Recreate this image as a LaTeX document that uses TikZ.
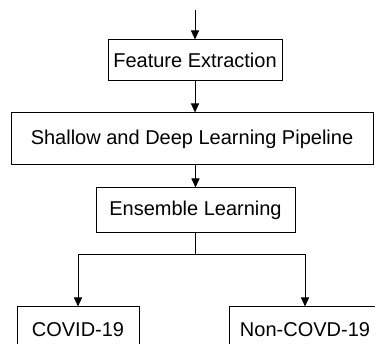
\documentclass[tikz,border=0pt]{standalone}
\usepackage{fontspec}
\setmainfont{Liberation Sans}
\usepackage{tikz}
\usetikzlibrary{arrows.meta,positioning}

\begin{document}
\begin{tikzpicture}[x=1pt,y=1pt,
          stage/.style={draw,rectangle,line width=1pt,inner sep=0pt,font=\fontsize{20}{24}\selectfont},
          flow/.style={line width=1pt,-{Triangle[width=8pt,length=9pt]}},
          link/.style={line width=1pt}]
        \useasboundingbox (0,0) rectangle (375,344);
        \clip (0,0) rectangle (375,344);
        \coordinate (in) at (195,334);
        \node[stage,minimum width=174pt,minimum height=41pt] (feat) at (195,283.5)  {Feature Extraction};
        \node[stage,minimum width=362pt,minimum height=52pt] (pipe) at (192,205)    {Shallow and Deep Learning Pipeline};
        \node[stage,minimum width=199pt,minimum height=45pt] (ens)  at (195.5,133.5) {Ensemble Learning};
        \node[stage,minimum width=122pt,minimum height=45pt] (pos)  at (78,14.5)    {COVID-19};
        \node[stage,minimum width=152pt,minimum height=45pt] (neg)  at (305,14.5)   {Non-COVD-19};
        \coordinate (split) at (195,89);
        \draw[flow] (in) -- (feat.north);
        \draw[flow] (feat.south) -- (feat.south |- pipe.north);
        \draw[flow] (ens.north |- pipe.south) -- (ens.north);
        \draw[link] (ens.south -| split) -- (split);
        \draw[flow] (split) -| (pos.north);
        \draw[flow] (split) -| (neg.north);
      \end{tikzpicture}
\end{document}
